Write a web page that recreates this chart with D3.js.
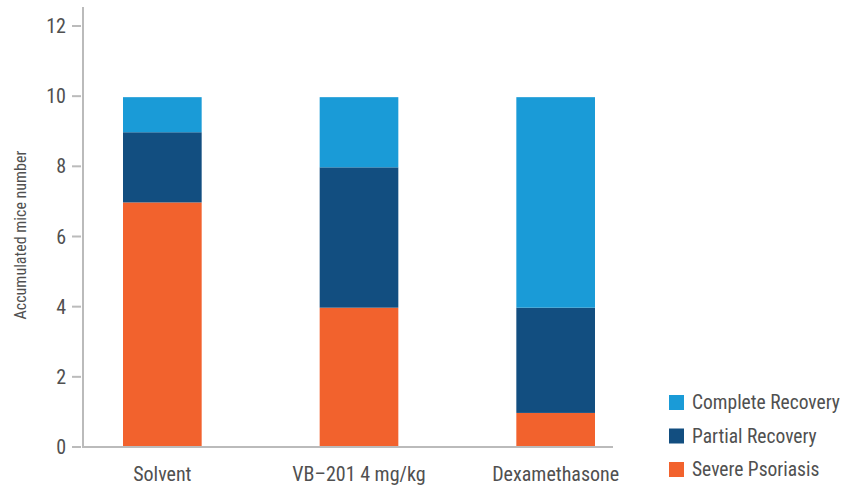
<!DOCTYPE html>
<html>
<head>
<meta charset="utf-8">
<script src="https://cdn.jsdelivr.net/npm/d3@7"></script>
<style>
  html, body { margin: 0; padding: 0; background: #fff; }
  svg text { font-family: "Liberation Sans Narrow", "Roboto Condensed", "Arial Narrow", Roboto, sans-serif; fill: #505050; }
</style>
</head>
<body>
<svg id="chart" width="859" height="487"></svg>
<script>
// Treatment groups along the x axis
const categories = ["Solvent", "VB\u2013201 4 mg/kg", "Dexamethasone"];
// Mice counts per outcome, stacked bottom to top
const severePsoriasis  = [7, 4, 1];
const partialRecovery  = [2, 4, 3];
const completeRecovery = [1, 2, 6];
const seriesNames = ["Severe Psoriasis", "Partial Recovery", "Complete Recovery"];
const seriesColors = ["#f2622d", "#124e80", "#1a9bd7"];
const yTicks = [0, 2, 4, 6, 8, 10, 12];
const yTitle = "Accumulated mice number";

const svg = d3.select("#chart");

const rows = categories.map((c, i) => ({
  cat: c,
  "Severe Psoriasis": severePsoriasis[i],
  "Partial Recovery": partialRecovery[i],
  "Complete Recovery": completeRecovery[i]
}));
const stacked = d3.stack().keys(seriesNames)(rows);

const x = d3.scaleBand().domain(categories).range([64, 654]).paddingInner(0.6).paddingOuter(0.3);
const y = d3.scaleLinear().domain([0, 12]).range([446.5, 25.5]);
const color = d3.scaleOrdinal().domain(seriesNames).range(seriesColors);

// Bars
svg.append("g").selectAll("g").data(stacked).join("g")
  .attr("fill", d => color(d.key))
  .selectAll("rect").data(d => d).join("rect")
  .attr("x", d => x(d.data.cat))
  .attr("width", x.bandwidth())
  .attr("y", d => y(d[1]) + 1.5)
  .attr("height", d => y(d[0]) - y(d[1]));

// Y axis
const yAxis = svg.append("g").attr("transform", "translate(83,0)")
  .call(d3.axisLeft(y).tickValues(yTicks).tickSize(10).tickPadding(6));
yAxis.select(".domain").remove();
yAxis.selectAll(".tick line").attr("stroke", "#bbb").attr("stroke-width", 2).attr("x2", -2).attr("x1", -11);
yAxis.selectAll(".tick text").attr("font-size", 20).attr("x", -17).attr("dy", "0.35em");

svg.append("line").attr("x1", 83).attr("x2", 83).attr("y1", 7).attr("y2", 448)
  .attr("stroke", "#bbb").attr("stroke-width", 2);

// X axis
svg.append("line").attr("x1", 82).attr("x2", 613).attr("y1", 447).attr("y2", 447)
  .attr("stroke", "#bbb").attr("stroke-width", 2);
const xAxis = svg.append("g").attr("transform", "translate(0,447)")
  .call(d3.axisBottom(x).tickSize(0).tickPadding(0));
xAxis.select(".domain").remove();
xAxis.selectAll(".tick text").attr("font-size", 20).attr("y", 34).attr("dy", 0);

// Y axis title
svg.append("text")
  .attr("transform", "translate(26,235) rotate(-90)")
  .attr("text-anchor", "middle")
  .attr("font-size", 16)
  .text(yTitle);

// Legend
const legendOrder = ["Complete Recovery", "Partial Recovery", "Severe Psoriasis"];
const legend = svg.append("g").selectAll("g").data(legendOrder).join("g")
  .attr("transform", (d, i) => `translate(669,${395 + i * 33.5})`);
legend.append("rect").attr("width", 15).attr("height", 15).attr("fill", d => color(d));
legend.append("text").attr("x", 23).attr("y", 14).attr("font-size", 19.5).text(d => d);
</script>
</body>
</html>
